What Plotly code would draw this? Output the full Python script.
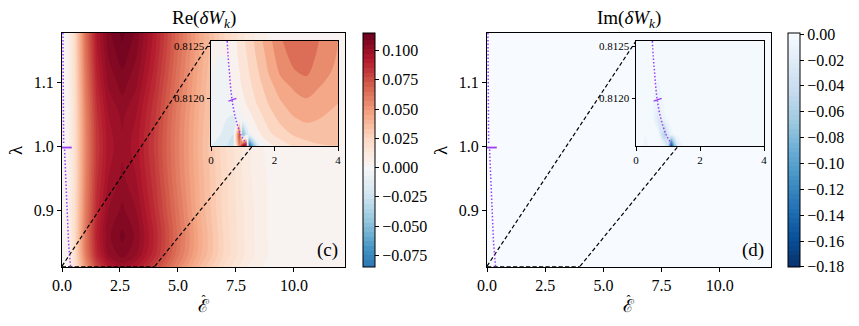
import plotly.graph_objects as go
import plotly.express as px
from plotly.colors import sample_colorscale, make_colorscale

W, H = 859, 326
FONT = "Liberation Serif, Times New Roman, serif"
VIOLET = "#9d3cf5"

# ---- Re(dW_k) on the full (eps, lambda) plane ----
eps_main = [0, 0.2, 0.5, 1.0, 1.5, 2.0, 2.6, 3.2, 4.0, 5.0, 6.0, 7.0, 8.0, 9.0, 10.0, 12.2]
lam_main = [0.8113, 0.83, 0.86, 0.9, 0.95, 1.0, 1.05, 1.1, 1.15, 1.177]
re_main = [
    [0.0005, 0.002, 0.013, 0.050, 0.078, 0.092, 0.098, 0.093, 0.078, 0.056, 0.036, 0.020, 0.009, 0.003, 0.002, 0.0015],
    [0.0005, 0.002, 0.016, 0.058, 0.087, 0.101, 0.107, 0.101, 0.086, 0.062, 0.041, 0.024, 0.011, 0.004, 0.002, 0.0015],
    [0.0005, 0.002, 0.017, 0.060, 0.090, 0.104, 0.110, 0.104, 0.088, 0.064, 0.042, 0.024, 0.011, 0.004, 0.002, 0.0015],
    [0.0005, 0.002, 0.016, 0.058, 0.087, 0.101, 0.106, 0.101, 0.085, 0.062, 0.040, 0.023, 0.011, 0.004, 0.002, 0.0015],
    [0.0005, 0.002, 0.015, 0.056, 0.084, 0.097, 0.102, 0.097, 0.082, 0.059, 0.039, 0.023, 0.010, 0.004, 0.002, 0.0015],
    [0.0005, 0.002, 0.015, 0.055, 0.082, 0.095, 0.100, 0.095, 0.080, 0.058, 0.038, 0.022, 0.010, 0.003, 0.002, 0.0015],
    [0.0005, 0.002, 0.015, 0.056, 0.084, 0.097, 0.102, 0.097, 0.082, 0.059, 0.039, 0.023, 0.010, 0.004, 0.002, 0.0015],
    [0.0005, 0.002, 0.016, 0.059, 0.088, 0.102, 0.107, 0.102, 0.086, 0.062, 0.041, 0.024, 0.011, 0.004, 0.002, 0.0015],
    [0.0005, 0.002, 0.017, 0.062, 0.092, 0.106, 0.112, 0.106, 0.090, 0.065, 0.043, 0.025, 0.011, 0.004, 0.002, 0.0015],
    [0.0005, 0.002, 0.017, 0.063, 0.093, 0.108, 0.114, 0.108, 0.091, 0.066, 0.043, 0.025, 0.011, 0.004, 0.002, 0.0015],
]

# ---- Im(dW_k) on the full plane (almost zero) ----
eps_flat = [0, 0.3, 2.0, 12.2]
lam_flat = [0.8113, 1.0, 1.177]
im_main = [
    [-0.0004, -0.0008, -0.0004, -0.0003],
    [-0.0003, -0.0006, -0.0003, -0.0003],
    [-0.0003, -0.0005, -0.0003, -0.0003],
]

# ---- zoomed window near the lower edge ----
eps_zoom = [0, 0.3, 0.5, 0.7, 0.9, 1.0, 1.1, 1.2, 1.3, 1.5, 1.8, 2.2, 2.6, 3.0, 3.4, 4.0]
lam_zoom = [0.81154, 0.81165, 0.81180, 0.81195, 0.81210, 0.81225, 0.81240, 0.81255]
re_zoom = [
    [-0.010, -0.015, -0.020, -0.022, 0.060, 0.100, 0.110, -0.090, -0.060, -0.012, 0.006, 0.014, 0.021, 0.026, 0.029, 0.030],
    [-0.006, -0.010, -0.014, -0.020, 0.080, -0.055, -0.025, -0.008, 0.000, 0.008, 0.017, 0.025, 0.031, 0.034, 0.035, 0.033],
    [-0.003, -0.006, -0.010, -0.012, -0.006, -0.001, 0.003, 0.006, 0.009, 0.015, 0.024, 0.033, 0.039, 0.042, 0.040, 0.036],
    [-0.002, -0.004, -0.006, -0.004, 0.004, 0.007, 0.010, 0.013, 0.016, 0.022, 0.030, 0.039, 0.045, 0.048, 0.045, 0.040],
    [-0.001, -0.002, -0.003, 0.002, 0.008, 0.011, 0.014, 0.017, 0.020, 0.026, 0.035, 0.045, 0.051, 0.054, 0.050, 0.044],
    [0.000, -0.001, -0.001, 0.004, 0.010, 0.013, 0.017, 0.020, 0.023, 0.030, 0.040, 0.052, 0.059, 0.062, 0.055, 0.047],
    [0.001, 0.000, 0.000, 0.005, 0.012, 0.015, 0.019, 0.022, 0.026, 0.033, 0.043, 0.056, 0.063, 0.065, 0.058, 0.049],
    [0.002, 0.001, 0.000, 0.006, 0.013, 0.017, 0.021, 0.024, 0.028, 0.036, 0.046, 0.059, 0.066, 0.068, 0.060, 0.050],
]
im_zoom = [
    [0.0, -0.008, -0.002, -0.003, -0.010, -0.040, -0.170, -0.080, -0.020, -0.006, -0.002, 0, 0, 0, 0, 0],
    [0.0, -0.006, -0.002, -0.004, -0.060, -0.025, -0.010, -0.005, -0.003, -0.001, 0, 0, 0, 0, 0, 0],
    [0.0, -0.002, -0.002, -0.025, -0.008, -0.004, -0.002, -0.001, 0, 0, 0, 0, 0, 0, 0, 0],
    [0.0, 0.0, -0.003, -0.014, -0.003, -0.001, 0, 0, 0, 0, 0, 0, 0, 0, 0, 0],
    [0.0, 0.0, -0.004, -0.008, -0.001, 0, 0, 0, 0, 0, 0, 0, 0, 0, 0, 0],
    [0.0, 0.0, -0.003, -0.004, 0, 0, 0, 0, 0, 0, 0, 0, 0, 0, 0, 0],
    [0.0, 0.0, -0.001, -0.002, 0, 0, 0, 0, 0, 0, 0, 0, 0, 0, 0, 0],
    [0.0, 0.0, -0.001, -0.001, 0, 0, 0, 0, 0, 0, 0, 0, 0, 0, 0, 0],
]

# critical curve (dotted violet) and its marker
crit_eps_upper = [0.04, 0.05, 0.07]
crit_lam_upper = [1.177, 1.1, 1.003]
crit_eps_lower = [0.11, 0.16, 0.22, 0.28, 0.37]
crit_lam_lower = [0.995, 0.95, 0.9, 0.85, 0.8113]
mark_eps_main = [0.0, 0.42]
mark_lam_main = [0.998, 0.998]
crit_eps_zoom = [0.51, 0.54, 0.58, 0.62, 0.68, 0.78, 0.94, 1.15]
crit_lam_zoom = [0.81255, 0.81240, 0.81225, 0.81210, 0.81195, 0.81180, 0.81165, 0.81154]
mark_eps_zoom = [0.55, 0.80]
mark_lam_zoom = [0.811972, 0.811998]

zoom_box_eps = [0, 4]
zoom_box_lam = [0.81154, 0.81255]

eps_range = [0, 12.2]
lam_range = [0.8113, 1.177]

RE_NORM = 0.116          # symmetric colour norm for the real part
IM_NORM = (-0.18, 0.0)   # colour norm for the imaginary part
rdbu_r = make_colorscale(px.colors.diverging.RdBu[::-1])
blues_r = make_colorscale(px.colors.sequential.Blues[::-1])


def band_scale(scale, vmin, vmax, start, end, size, n=41):
    # plotly spreads a filled contour's colorscale over [start - size/2, end + size/2];
    # resample so that every band gets the colour of the fixed norm [vmin, vmax]
    lo, hi = start - size / 2, end + size / 2
    fr = [k / (n - 1) for k in range(n)]
    ts = [min(1, max(0, (lo + f * (hi - lo) - vmin) / (vmax - vmin))) for f in fr]
    return [[f, c] for f, c in zip(fr, sample_colorscale(scale, ts))]


# pixel boxes
main_y_px = (33, 267)
inset_y_px = (41, 146)
panels = [
    dict(main=(62, 345), inset=(211, 338), cbar=363, title="Re(<i>δW</i><sub><i>k</i></sub>)", tag="(c)", lab_x=15),
    dict(main=(487, 771), inset=(636, 764), cbar=788, title="Im(<i>δW</i><sub><i>k</i></sub>)", tag="(d)", lab_x=440),
]


def xdom(p):
    return [p[0] / W, p[1] / W]


def ydom(p):
    return [1 - p[1] / H, 1 - p[0] / H]


def cbar(xpx, vals, fmt):
    return dict(x=xpx / W, xanchor="left", y=1 - main_y_px[1] / H, yanchor="bottom",
                len=(main_y_px[1] - main_y_px[0]) / H, lenmode="fraction",
                thickness=12, outlinecolor="black", outlinewidth=1, xpad=0, ypad=0,
                ticks="outside", ticklen=4, tickcolor="black", tickvals=vals, tickformat=fmt,
                tickfont=dict(family=FONT, size=16, color="black"))


def filled(x, y, z, xa, ya, scale, vmin, vmax, start, end, size, **kw):
    return go.Contour(x=x, y=y, z=z, xaxis=xa, yaxis=ya, autocontour=False,
                      colorscale=band_scale(scale, vmin, vmax, start, end, size),
                      contours=dict(start=start, end=end, size=size, coloring="fill", showlines=False),
                      line=dict(width=0, smoothing=1), hoverinfo="skip", **kw)


DASH = "4px,2.5px"
# hat stacked over a script E, both lines centred on one another
EPS_LABEL = ("<span style='font-size:12px'>ˆ</span><br>"
             "<span style='font-size:18px;font-family:DejaVu Serif'>ℰ</span>")

fig = go.Figure()
layout_axes = {}
annotations = []

for i, p in enumerate(panels):
    m = 2 * i + 1
    n = 2 * i + 2
    xm, ym = ("x" if m == 1 else "x%d" % m), ("y" if m == 1 else "y%d" % m)
    xi, yi = "x%d" % n, "y%d" % n

    if i == 0:
        fig.add_trace(filled(eps_main, lam_main, re_main, xm, ym, rdbu_r, -RE_NORM, RE_NORM,
                             -0.083, 0.1135, 0.004,
                             colorbar=cbar(p["cbar"], [-0.075, -0.05, -0.025, 0, 0.025, 0.05, 0.075, 0.1], ".3f")))
    else:
        fig.add_trace(filled(eps_flat, lam_flat, im_main, xm, ym, blues_r, IM_NORM[0], IM_NORM[1],
                             -0.1783, -0.0009, 0.00362,
                             colorbar=cbar(p["cbar"], [-0.18, -0.16, -0.14, -0.12, -0.1, -0.08, -0.06, -0.04, -0.02, 0], ".2f")))

    # zoom rectangle and connectors to the inset's upper corners
    fig.add_trace(go.Scatter(
        x=[zoom_box_eps[0], zoom_box_eps[1], zoom_box_eps[1], zoom_box_eps[0], zoom_box_eps[0]],
        y=[zoom_box_lam[0], zoom_box_lam[0], zoom_box_lam[1], zoom_box_lam[1], zoom_box_lam[0]],
        mode="lines", line=dict(color="black", width=1.2, dash=DASH),
        xaxis=xm, yaxis=ym, showlegend=False, hoverinfo="skip"))
    mx0, mx1 = p["main"]
    ix0, ix1 = p["inset"]
    corner_lam = lam_range[1] - (inset_y_px[0] - main_y_px[0]) / (main_y_px[1] - main_y_px[0]) * (lam_range[1] - lam_range[0])
    for bx, ipx in [(zoom_box_eps[0], ix0), (zoom_box_eps[1], ix1)]:
        cx = eps_range[0] + (ipx - mx0) / (mx1 - mx0) * (eps_range[1] - eps_range[0])
        fig.add_trace(go.Scatter(
            x=[bx, cx], y=[zoom_box_lam[1], corner_lam], mode="lines",
            line=dict(color="black", width=1.2, dash=DASH),
            xaxis=xm, yaxis=ym, showlegend=False, hoverinfo="skip"))

    for ex, ly in [(crit_eps_upper, crit_lam_upper), (crit_eps_lower, crit_lam_lower)]:
        fig.add_trace(go.Scatter(x=ex, y=ly, mode="lines", line=dict(color=VIOLET, width=1.5, dash="1.5px,2px"),
                                 xaxis=xm, yaxis=ym, showlegend=False, hoverinfo="skip"))
    fig.add_trace(go.Scatter(x=mark_eps_main, y=mark_lam_main, mode="lines", line=dict(color=VIOLET, width=1.8),
                             xaxis=xm, yaxis=ym, showlegend=False, hoverinfo="skip"))

    # inset
    if i == 0:
        fig.add_trace(filled(eps_zoom, lam_zoom, re_zoom, xi, yi, rdbu_r, -RE_NORM, RE_NORM,
                             -0.1, 0.11, 0.01, showscale=False))
    else:
        fig.add_trace(filled(eps_zoom, lam_zoom, im_zoom, xi, yi, blues_r, IM_NORM[0], IM_NORM[1],
                             -0.18, -0.006, 0.006, showscale=False))
    fig.add_trace(go.Scatter(x=crit_eps_zoom, y=crit_lam_zoom, mode="lines",
                             line=dict(color=VIOLET, width=1.5, dash="1.5px,2px", shape="spline"),
                             xaxis=xi, yaxis=yi, showlegend=False, hoverinfo="skip"))
    fig.add_trace(go.Scatter(x=mark_eps_zoom, y=mark_lam_zoom, mode="lines", line=dict(color=VIOLET, width=1.5),
                             xaxis=xi, yaxis=yi, showlegend=False, hoverinfo="skip"))

    base = dict(showline=True, mirror=True, linecolor="black", linewidth=1, ticks="outside",
                tickcolor="black", showgrid=False, zeroline=False, automargin=False)
    big = dict(base, ticklen=4, tickfont=dict(family=FONT, size=16, color="black"))
    small = dict(base, ticklen=3.5, tickfont=dict(family=FONT, size=11, color="black"))
    kx = "xaxis" if m == 1 else "xaxis%d" % m
    ky = "yaxis" if m == 1 else "yaxis%d" % m
    layout_axes[kx] = dict(big, domain=xdom(p["main"]), range=eps_range, tickvals=[0, 2.5, 5, 7.5, 10],
                           tickformat=".1f", anchor=ym)
    layout_axes[ky] = dict(big, domain=ydom(main_y_px), range=lam_range, tickvals=[0.9, 1.0, 1.1],
                           tickformat=".1f", anchor=xm)
    layout_axes["xaxis%d" % n] = dict(small, domain=xdom(p["inset"]), range=[0, 4], tickvals=[0, 2, 4],
                                      tickformat="d", anchor=yi)
    layout_axes["yaxis%d" % n] = dict(small, domain=ydom(inset_y_px), range=zoom_box_lam,
                                      tickvals=[0.8120, 0.8125], tickformat=".4f", anchor=xi)

    cx_px = (mx0 + mx1) / 2
    annotations += [
        dict(text=p["title"], x=cx_px / W, y=1 - 19 / H, font=dict(family=FONT, size=19)),
        dict(text=EPS_LABEL, x=cx_px / W, y=1 - 304 / H, font=dict(family=FONT, size=6)),
        dict(text="λ", x=p["lab_x"] / W, y=1 - 150 / H, textangle=-90, font=dict(family=FONT, size=19)),
        dict(text=p["tag"], x=(mx1 - 18) / W, y=1 - 250 / H, font=dict(family=FONT, size=19)),
    ]

for a in annotations:
    a.update(xref="paper", yref="paper", showarrow=False, xanchor="center", yanchor="middle")
    a["font"]["color"] = "black"

fig.update_layout(width=W, height=H, margin=dict(l=0, r=0, t=0, b=0, autoexpand=False),
                  paper_bgcolor="white", plot_bgcolor="white", showlegend=False,
                  annotations=annotations, **layout_axes)
# drop the browser's default page margin so the figure sits at the window's corner
fig.write_html("out.html", config={"displayModeBar": False},
               post_script="document.body.style.margin = '0px';")
